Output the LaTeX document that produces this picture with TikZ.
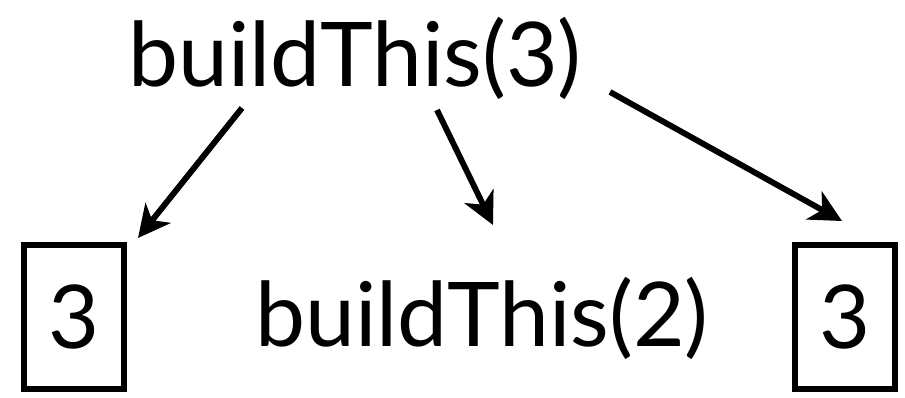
\documentclass[tikz,border=0pt]{standalone}
\usepackage{fontspec}
\setmainfont{Lato}
\usetikzlibrary{arrows.meta}
\tikzset{
  lbl/.style={inner sep=0pt, font=\fontsize{67}{72}\selectfont},
  numbox/.style={draw, line width=3.8pt, minimum width=75pt, minimum height=108pt, inner sep=0pt, font=\fontsize{66}{70}\selectfont},
  arr/.style={line width=4.4pt, -{Stealth[length=24pt, width=24pt, inset=7pt]}}
}
\begin{document}
\begin{tikzpicture}[x=0.75pt,y=-0.75pt]
\useasboundingbox (0,0) rectangle (905,398);
\node[lbl] (top) at (355,58) {buildThis(3)};
\node[lbl] (mid) at (482,318) {buildThis(2)};
\node[numbox] (lb) at (74,317) {3};
\node[numbox] (rb) at (845,317) {3};
\coordinate (s1) at (242,108);
\coordinate (e1) at (138,238);
\coordinate (s2) at (437,110);
\coordinate (e2) at (493,225);
\coordinate (s3) at (610,92);
\coordinate (e3) at (842,221);
\draw[arr] (s1) -- (e1);
\draw[arr] (s2) -- (e2);
\draw[arr] (s3) -- (e3);
\end{tikzpicture}
\end{document}
